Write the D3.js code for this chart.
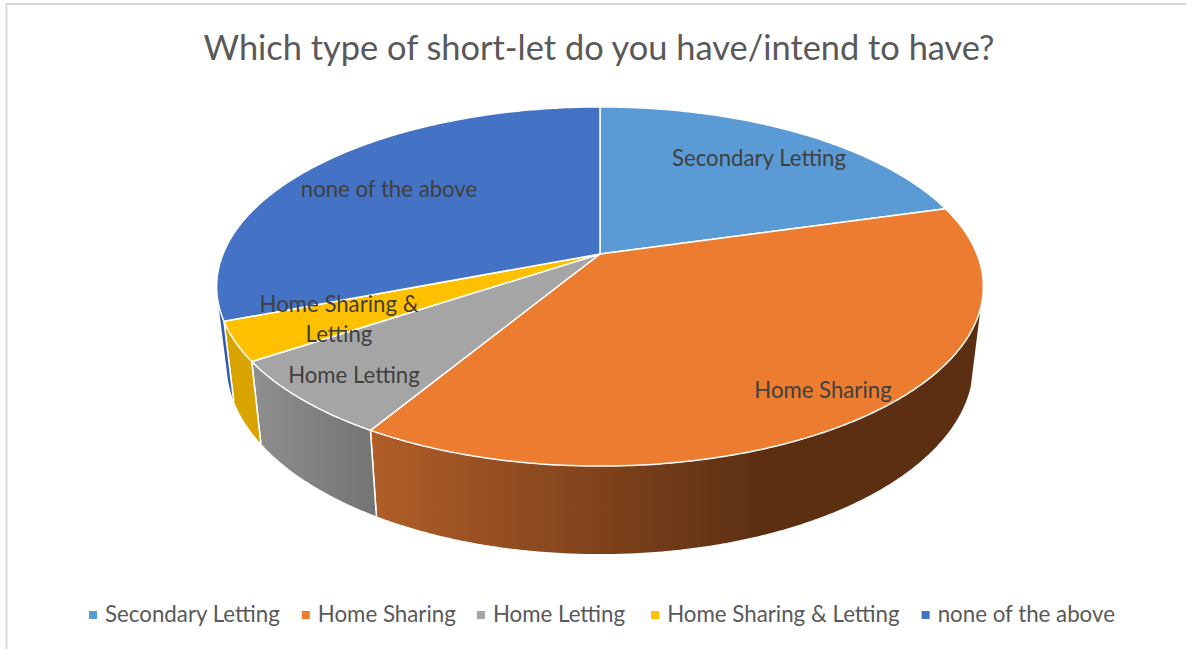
<!DOCTYPE html>
<html><head><meta charset="utf-8">
<style>html,body{margin:0;padding:0;background:#fff}svg{display:block}</style>
<script src="https://cdn.jsdelivr.net/npm/d3@7/dist/d3.min.js"></script>
</head><body><svg id="c" width="1186" height="649"></svg>
<script>
const title = "Which type of short-let do you have/intend to have?";
const categories = ["Secondary Letting","Home Sharing","Home Letting","Home Sharing & Letting","none of the above"];
const values = [20.6,38,7,3.5,30.9];
const topColors = ["#5b9bd5","#eb7c30","#a5a5a5","#ffc000","#4472c4"];
const wallFrom = ["#4a7fb0","#b15e28","#8f8f8f","#d9a300","#2f5cae"];
const wallTo = ["#4a7fb0","#5c2f13","#757575","#d9a300","#2f5cae"];
const labelLines = [["Secondary Letting"],["Home Sharing"],["Home Letting"],["Home Sharing &","Letting"],["none of the above"]];
const labelAnchors = [[759,166],[823,398],[354,383],[339,312],[389,197]];
const legendGaps = [22,21,26,22,0];

const svg = d3.select("#c");
// frame
svg.append("path").attr("d","M6.5,649V4H1186").attr("fill","none").attr("stroke","#d9d9d9").attr("stroke-width",2);

// perspective projection of the unit disc
const cx=600, cy=254, a=0.181, kx=377, ky=173.7, depthScale=0.974, depthMax=88, depthPow=0.75;
const project=(ang,r=1)=>{const X=r*Math.sin(ang),Y=r*Math.cos(ang),w=1+a*Y;return [cx+kx*X/w, cy-ky*Y/w];};
const lower=ang=>{const [x,y]=project(ang),w=1+a*Math.cos(ang);
  return [cx+(x-cx)*depthScale, y+depthMax*Math.pow((1-a)/w,depthPow)];};
const line=d3.line();
const rad=d=>d*Math.PI/180;
const wallStart=rad(107), wallEnd=rad(255);
const arcs=d3.pie().sort(null).startAngle(0).endAngle(2*Math.PI)(values);
const sample=(s,e)=>{const n=Math.max(2,Math.ceil((e-s)/rad(0.5)));return d3.range(n+1).map(i=>s+(e-s)*i/n);};

const defs=svg.append("defs");
arcs.forEach((d,i)=>{
  const g=defs.append("linearGradient").attr("id","w"+i).attr("gradientUnits","userSpaceOnUse")
    .attr("x1",project(d.startAngle)[0]).attr("x2",project(d.endAngle)[0]).attr("y1",0).attr("y2",0);
  if(i===2){g.attr("x1",project(d.endAngle)[0]).attr("x2",project(d.startAngle)[0]);}
  if(i===1){g.attr("x1",project(d.endAngle)[0]).attr("x2",760);}
  g.append("stop").attr("offset",0).attr("stop-color",wallFrom[i]);
  g.append("stop").attr("offset",1).attr("stop-color",wallTo[i]);
});

// walls: only the front of the rim
const walls=svg.append("g");
arcs.forEach((d,i)=>{
  const s=Math.max(d.startAngle,wallStart), e=Math.min(d.endAngle,wallEnd);
  if(e<=s) return;
  const angs=sample(s,e), up=angs.map(t=>project(t)), dn=angs.map(lower).reverse();
  walls.append("path").attr("d",line(up.concat(dn))+"Z").attr("fill",`url(#w${i})`);
  [s,e].forEach(t=>{ if(t>wallStart && t<wallEnd)
    walls.append("path").attr("d",line([project(t),lower(t)])).attr("stroke","#fff").attr("stroke-width",1.5).attr("fill","none");
  });
});

// top faces
const tops=svg.append("g");
arcs.forEach((d,i)=>{
  const pts=[[cx,cy]].concat(sample(d.startAngle,d.endAngle).map(t=>project(t)));
  tops.append("path").attr("d",line(pts)+"Z").attr("fill",topColors[i]).attr("stroke","#fff").attr("stroke-width",1.5).attr("stroke-linejoin","round");
});

// data labels
const lab=svg.append("g").attr("font-family","Lato, Carlito, sans-serif").attr("font-size",22.2).attr("fill","#404040").attr("text-anchor","middle");
labelLines.forEach((ls,i)=>ls.forEach((t,j)=>{
  lab.append("text").attr("x",labelAnchors[i][0]).attr("y",labelAnchors[i][1]+j*30).text(t);
}));

// title
svg.append("text").attr("x",599).attr("y",60).attr("text-anchor","middle").attr("font-family","Lato, Carlito, sans-serif").attr("font-size",34.4).attr("fill","#595959").text(title);

// legend
const leg=svg.append("g").attr("font-family","Lato, Carlito, sans-serif").attr("font-size",22.3).attr("fill","#595959");
let lx=89;
categories.forEach((c,i)=>{
  leg.append("rect").attr("x",lx).attr("y",611).attr("width",8).attr("height",8).attr("fill",topColors[i]);
  const t=leg.append("text").attr("x",lx+16).attr("y",622).text(c);
  lx+=16+t.node().getComputedTextLength()+legendGaps[i];
});
</script></body></html>
